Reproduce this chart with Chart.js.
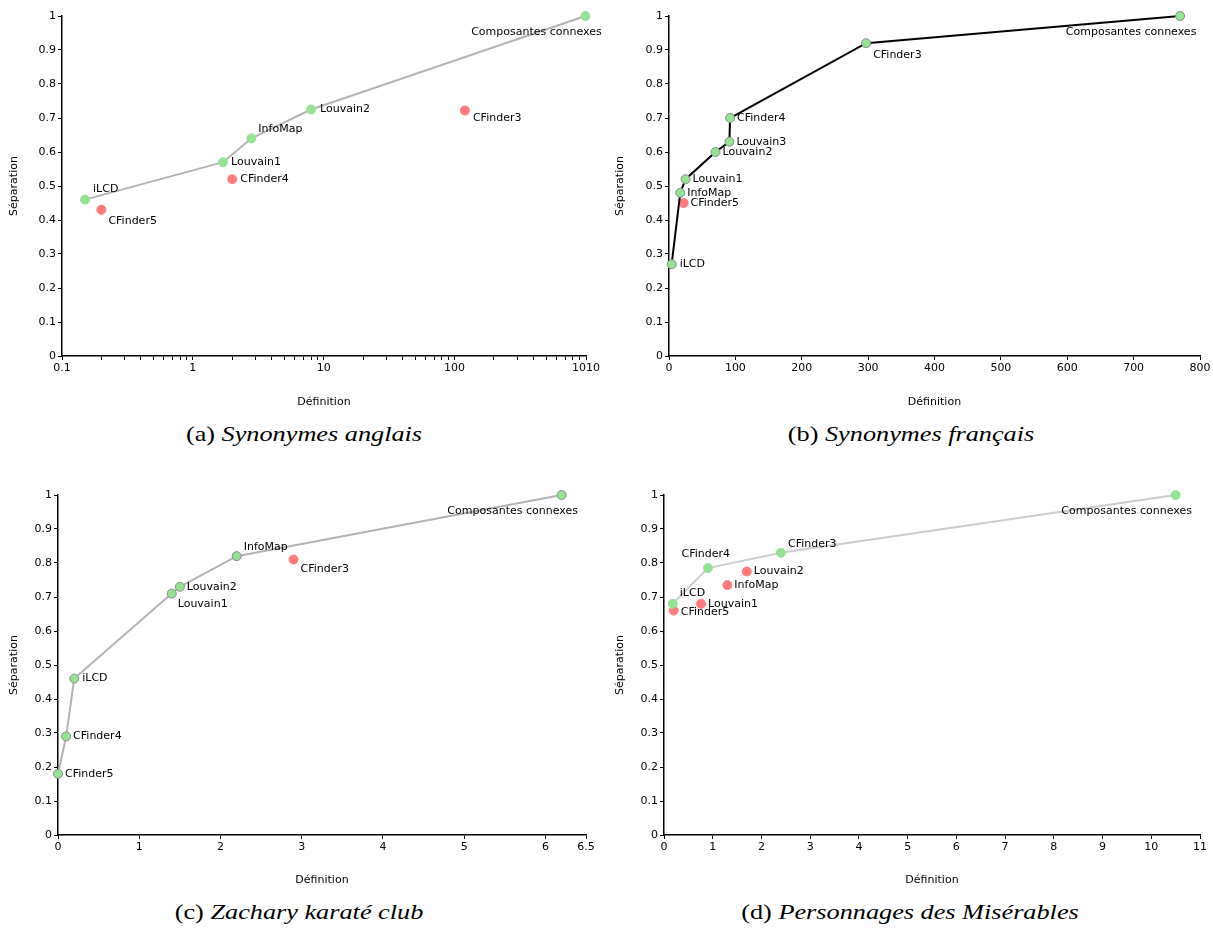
<!DOCTYPE html>
<html>
<head>
<meta charset="utf-8">
<script src="https://cdn.jsdelivr.net/npm/chart.js@4.4.1/dist/chart.umd.min.js"></script>
<style>
  body { margin: 0; background: #fff; width: 1213px; height: 933px; position: relative; overflow: hidden; }
  canvas { position: absolute; }
  .caption { position: absolute; font-family: "Liberation Serif", "DejaVu Serif", serif; font-size: 21px; color: #000; white-space: nowrap; transform: translateX(-50%) scaleX(1.25); }
  .caption i { font-style: italic; }
</style>
</head>
<body>
<canvas id="chartA" width="612" height="415" style="left:0;top:0"></canvas>
<canvas id="chartB" width="607" height="415" style="left:606px;top:0"></canvas>
<canvas id="chartC" width="612" height="415" style="left:0;top:478px"></canvas>
<canvas id="chartD" width="607" height="415" style="left:606px;top:478px"></canvas>
<div class="caption" style="left:304px;top:422px">(a) <i>Synonymes anglais</i></div>
<div class="caption" style="left:911px;top:422px">(b) <i>Synonymes français</i></div>
<div class="caption" style="left:299px;top:900px">(c) <i>Zachary karaté club</i></div>
<div class="caption" style="left:910px;top:900px">(d) <i>Personnages des Misérables</i></div>
<script>
// (a) Synonymes anglais
const aFrontNames = ['iLCD', 'Louvain1', 'InfoMap', 'Louvain2', 'Composantes connexes'];
const aFrontX = [0.15, 1.7, 2.8, 8, 1000];
const aFrontY = [0.46, 0.57, 0.64, 0.725, 1];
const aOtherNames = ['CFinder5', 'CFinder4', 'CFinder3'];
const aOtherX = [0.2, 2, 120];
const aOtherY = [0.43, 0.52, 0.722];
const aXTicks = [0.1, 1, 10, 100, 1010];

// (b) Synonymes français
const bFrontNames = ['iLCD', 'InfoMap', 'Louvain1', 'Louvain2', 'Louvain3', 'CFinder4', 'CFinder3', 'Composantes connexes'];
const bFrontX = [4, 17, 25, 70, 91, 92, 297, 770];
const bFrontY = [0.27, 0.48, 0.52, 0.60, 0.63, 0.70, 0.92, 1];
const bOtherNames = ['CFinder5'];
const bOtherX = [22];
const bOtherY = [0.45];

// (c) Zachary karaté club
const cFrontNames = ['CFinder5', 'CFinder4', 'iLCD', 'Louvain1', 'Louvain2', 'InfoMap', 'Composantes connexes'];
const cFrontX = [0, 0.1, 0.2, 1.4, 1.5, 2.2, 6.2];
const cFrontY = [0.18, 0.29, 0.46, 0.71, 0.73, 0.82, 1];
const cOtherNames = ['CFinder3'];
const cOtherX = [2.9];
const cOtherY = [0.81];
const cXTicks = [0, 1, 2, 3, 4, 5, 6, 6.5];

// (d) Personnages des Misérables
const dFrontNames = ['iLCD', 'CFinder4', 'CFinder3', 'Composantes connexes'];
const dFrontX = [0.18, 0.9, 2.4, 10.5];
const dFrontY = [0.68, 0.785, 0.83, 1];
const dOtherNames = ['CFinder5', 'Louvain1', 'InfoMap', 'Louvain2'];
const dOtherX = [0.2, 0.76, 1.3, 1.7];
const dOtherY = [0.66, 0.68, 0.735, 0.775];

// label placement: [dx, dy, align]
const right = [7, 0, 'left'];
const compLabel = [-49, 16, 'center'];
const aPlace = {
  'iLCD': [8, -10, 'left'], 'Louvain1': [8, 0, 'left'], 'InfoMap': [7, -9, 'left'],
  'Louvain2': [9, 0, 'left'], 'Composantes connexes': compLabel,
  'CFinder5': [7, 11, 'left'], 'CFinder4': [8, 0, 'left'], 'CFinder3': [8, 8, 'left']
};
const bPlace = {
  'iLCD': [8, 0, 'left'], 'InfoMap': right, 'Louvain1': right, 'Louvain2': right,
  'Louvain3': right, 'CFinder4': right, 'CFinder3': [7, 12, 'left'],
  'Composantes connexes': compLabel, 'CFinder5': right
};
const cPlace = {
  'CFinder5': right, 'CFinder4': right, 'iLCD': [8, 0, 'left'], 'Louvain1': [6, 11, 'left'],
  'Louvain2': right, 'InfoMap': [7, -9, 'left'], 'Composantes connexes': compLabel,
  'CFinder3': [7, 10, 'left']
};
const dPlace = {
  'iLCD': [7, -11, 'left'], 'CFinder4': [-2, -14, 'center'], 'CFinder3': [7, -9, 'left'],
  'Composantes connexes': compLabel, 'CFinder5': [7, 2, 'left'], 'Louvain1': right,
  'InfoMap': right, 'Louvain2': right
};

const FONT = '"DejaVu Sans", sans-serif';
const FSIZE = 11;
const GREEN = '#93e393';
const RED = '#ff7a7a';

const pointLabels = {
  id: 'pointLabels',
  afterDraw(chart, args, opts) {
    const ctx = chart.ctx;
    ctx.save();
    ctx.font = FSIZE + 'px ' + FONT;
    ctx.fillStyle = '#000';
    ctx.textBaseline = 'middle';
    chart.data.datasets.forEach((ds, di) => {
      const meta = chart.getDatasetMeta(di);
      meta.data.forEach((pt, i) => {
        const name = ds.names[i];
        const p = opts.place[name] || right;
        ctx.textAlign = p[2];
        ctx.fillText(name, pt.x + p[0], pt.y + p[1]);
      });
    });
    ctx.restore();
  }
};

function toPoints(xs, ys) {
  return xs.map((x, i) => ({ x: x, y: ys[i] }));
}

function drawPanel(id, cfg) {
  const axisColor = '#000';
  new Chart(document.getElementById(id), {
    type: 'scatter',
    data: {
      datasets: [
        {
          names: cfg.frontNames,
          data: toPoints(cfg.frontX, cfg.frontY),
          showLine: true,
          borderColor: cfg.lineColor,
          borderWidth: 2,
          pointBackgroundColor: GREEN,
          pointBorderColor: cfg.pointBorder || GREEN,
          pointBorderWidth: 1,
          pointRadius: 4.5,
          clip: false
        },
        {
          names: cfg.otherNames,
          data: toPoints(cfg.otherX, cfg.otherY),
          showLine: false,
          pointBackgroundColor: RED,
          pointBorderColor: RED,
          pointRadius: 4.5,
          clip: false
        }
      ]
    },
    options: {
      responsive: false,
      animation: false,
      events: [],
      layout: { padding: { top: cfg.top, right: cfg.right, left: 0, bottom: 0 } },
      plugins: {
        legend: { display: false },
        tooltip: { enabled: false },
        pointLabels: { place: cfg.place }
      },
      scales: {
        x: Object.assign({
          position: 'bottom',
          border: { color: axisColor, width: 1.5 },
          grid: { drawOnChartArea: false, drawTicks: true, tickLength: 4, color: axisColor },
          title: { display: true, text: 'Définition', color: '#000', font: { family: FONT, size: FSIZE }, padding: { top: 0, bottom: 6 } },
          afterFit: (s) => { s.height = cfg.xAxisHeight; }
        }, cfg.xScale),
        y: {
          type: 'linear',
          min: 0,
          max: 1,
          border: { color: axisColor, width: 1.5 },
          grid: { drawOnChartArea: false, drawTicks: true, tickLength: 4, color: axisColor },
          ticks: {
            stepSize: 0.1, color: '#000', font: { family: FONT, size: FSIZE }, padding: 2,
            callback: (v) => String(Math.round(v * 10) / 10)
          },
          title: { display: true, text: 'Séparation', color: '#000', font: { family: FONT, size: FSIZE }, padding: { top: 8, bottom: 0 } },
          afterFit: (s) => { s.width = cfg.yAxisWidth; }
        }
      }
    },
    plugins: [pointLabels]
  });
}

// log axis for (a): labelled decades plus unlabelled minor ticks
function logTicks() {
  const vals = [];
  [0.1, 1, 10, 100].forEach((d) => {
    for (let k = 1; k < 10; k++) vals.push(d * k);
  });
  vals.push(1010);
  return vals;
}

const xTickStyle = { color: '#000', font: { family: FONT, size: FSIZE }, padding: 2, maxRotation: 0, autoSkip: false };

drawPanel('chartA', {
  frontNames: aFrontNames, frontX: aFrontX, frontY: aFrontY,
  otherNames: aOtherNames, otherX: aOtherX, otherY: aOtherY,
  lineColor: '#b3b3b3', place: aPlace,
  top: 16, right: 26, yAxisWidth: 62, xAxisHeight: 59,
  xScale: {
    type: 'logarithmic', min: 0.1, max: 1010,
    afterBuildTicks: (s) => { s.ticks = logTicks().map((v) => ({ value: v })); },
    ticks: Object.assign({}, xTickStyle, {
      callback: (v) => {
        const hit = aXTicks.find((t) => Math.abs(t - v) / t < 1e-6);
        return hit !== undefined ? String(hit) : '';
      }
    })
  }
});

drawPanel('chartB', {
  frontNames: bFrontNames, frontX: bFrontX, frontY: bFrontY,
  otherNames: bOtherNames, otherX: bOtherX, otherY: bOtherY,
  lineColor: '#000', pointBorder: '#8c8c8c', place: bPlace,
  top: 16, right: 13, yAxisWidth: 63, xAxisHeight: 59,
  xScale: { type: 'linear', min: 0, max: 800, ticks: Object.assign({ stepSize: 100 }, xTickStyle) }
});

drawPanel('chartC', {
  frontNames: cFrontNames, frontX: cFrontX, frontY: cFrontY,
  otherNames: cOtherNames, otherX: cOtherX, otherY: cOtherY,
  lineColor: '#b3b3b3', pointBorder: '#8c8c8c', place: cPlace,
  top: 17, right: 26, yAxisWidth: 58, xAxisHeight: 58,
  xScale: {
    type: 'linear', min: 0, max: 6.5,
    afterBuildTicks: (s) => { s.ticks = cXTicks.map((v) => ({ value: v })); },
    ticks: xTickStyle
  }
});

drawPanel('chartD', {
  frontNames: dFrontNames, frontX: dFrontX, frontY: dFrontY,
  otherNames: dOtherNames, otherX: dOtherX, otherY: dOtherY,
  lineColor: '#cccccc', place: dPlace,
  top: 17, right: 13, yAxisWidth: 58, xAxisHeight: 58,
  xScale: { type: 'linear', min: 0, max: 11, ticks: Object.assign({ stepSize: 1 }, xTickStyle) }
});
</script>
</body>
</html>
